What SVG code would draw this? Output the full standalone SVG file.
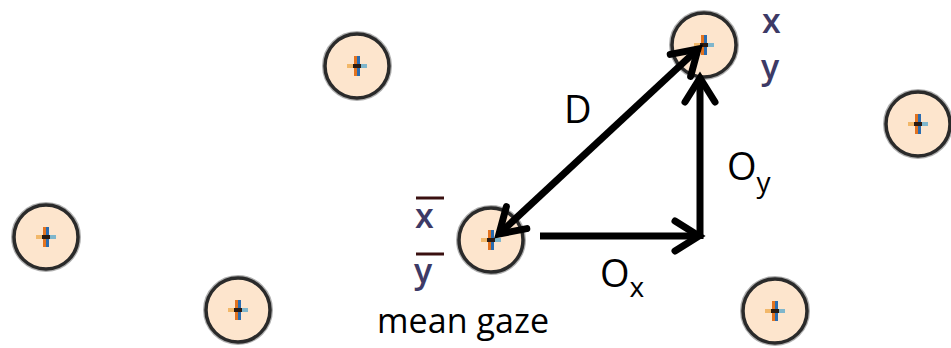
<svg xmlns="http://www.w3.org/2000/svg" width="951" height="348" viewBox="0 0 951 348">
<style>
.ring{fill:#fde5cd;stroke:#2a2a2a;stroke-width:3.5}
.halo{fill:none;stroke:#b0b0b0;stroke-width:2}
.conn{stroke:#000;stroke-width:7;fill:none;stroke-linecap:butt}
.lbl{font-family:"Open Sans","Liberation Sans",sans-serif;fill:#000}
.var{font-family:"Open Sans","Liberation Sans",sans-serif;fill:#3d3a66;font-weight:600}
.bar{stroke:#3a1010;stroke-width:3}
</style>
<defs>
<g id="pt">
<circle class="halo" r="34"/>
<circle class="ring" r="32"/>
<rect x="-3" y="-10" width="3" height="20" fill="#e3731f"/>
<rect x="0" y="-10" width="3" height="20" fill="#2a6cb0"/>
<rect x="-10" y="-2" width="6" height="4" fill="#f2b86a"/>
<rect x="-4" y="-2" width="8" height="4" fill="#2a1a12"/>
<rect x="4" y="-2" width="6" height="4" fill="#7fb6cc"/>
</g>
<marker id="ah" markerUnits="userSpaceOnUse" viewBox="-36 -22 42 44" refX="0" refY="0" markerWidth="42" markerHeight="44" orient="auto-start-reverse" overflow="visible">
<path d="M -24,-15 L 0,0 L -24,15" fill="none" stroke="#000" stroke-width="7" stroke-linecap="round" stroke-linejoin="miter"/>
</marker>
</defs>
<g id="p1"><use href="#pt" x="357" y="66"/></g>
<g id="p2"><use href="#pt" x="704" y="45"/></g>
<g id="p3"><use href="#pt" x="918" y="124"/></g>
<g id="p4"><use href="#pt" x="46" y="237"/></g>
<g id="mean"><use href="#pt" x="491" y="240"/></g>
<g id="p6"><use href="#pt" x="238" y="310"/></g>
<g id="p7"><use href="#pt" x="775" y="311"/></g>
<g id="connectors">
<line class="conn" x1="540" y1="236" x2="699" y2="236" marker-end="url(#ah)"/>
<line class="conn" x1="700" y1="239" x2="700" y2="78" marker-end="url(#ah)"/>
<line class="conn" x1="499" y1="234" x2="698" y2="49" marker-start="url(#ah)" marker-end="url(#ah)"/>
</g>
<g id="labels">
<text class="var" x="762" y="33" font-size="34">x</text>
<text class="var" x="761" y="79" font-size="34">y</text>
<line class="bar" x1="416" y1="198" x2="444" y2="198"/>
<text class="var" x="415" y="228" font-size="34">x</text>
<line class="bar" x1="416" y1="254" x2="444" y2="254"/>
<text class="var" x="414" y="283" font-size="34">y</text>
<text class="lbl" x="564" y="123" font-size="38">D</text>
<text class="lbl" x="727" y="180" font-size="38">O<tspan font-size="28" dy="12">y</tspan></text>
<text class="lbl" x="600" y="287" font-size="38">O<tspan font-size="28" dy="10">x</tspan></text>
<text class="lbl" x="377" y="333" font-size="34" textLength="172">mean gaze</text>
</g>
</svg>
